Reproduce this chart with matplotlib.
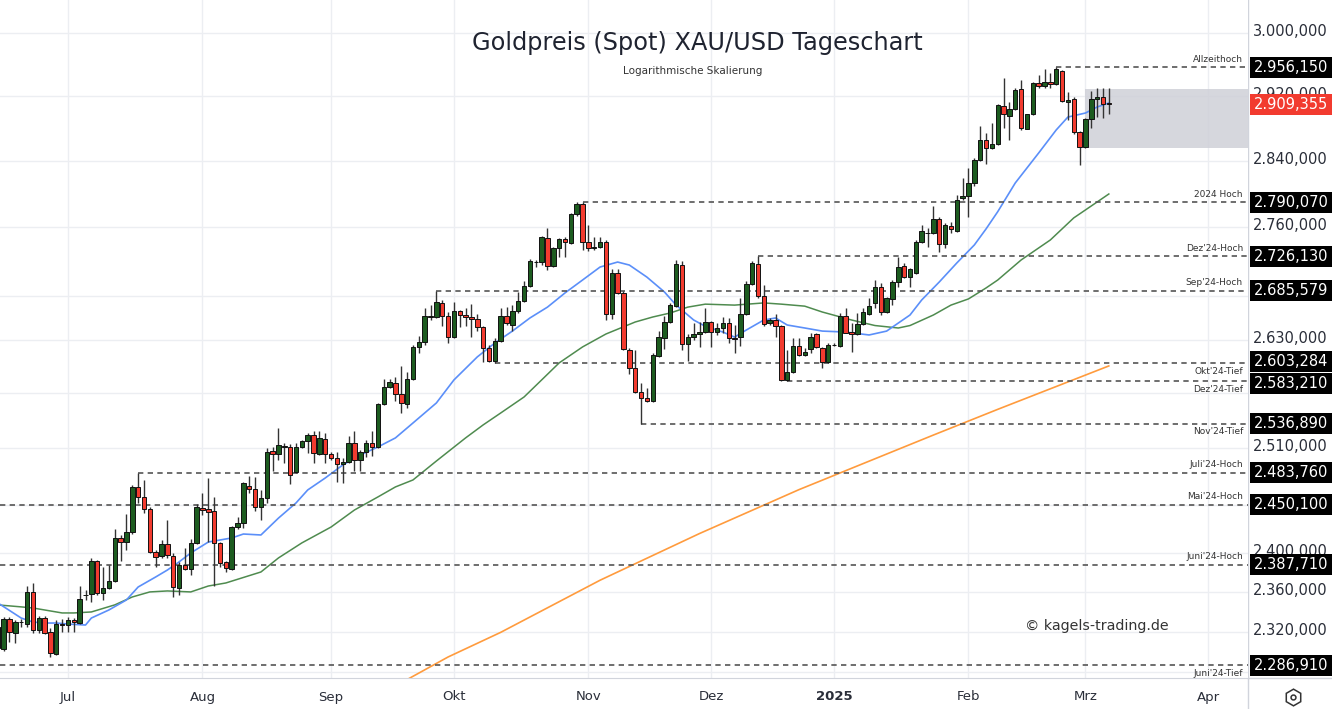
import numpy as np
import pandas as pd
import matplotlib
matplotlib.use("Agg")
import matplotlib.pyplot as plt
from matplotlib.patches import Rectangle
from matplotlib.lines import Line2D

W, H = 1332, 709

# ---------------- data ----------------
dates = pd.bdate_range("2024-06-13", "2025-03-07")
dates = dates[dates != pd.Timestamp("2024-12-25")]

open_ = [2304.0, 2303.0, 2332.8, 2318.9, 2329.6, 2327.8, 2360.1, 2321.9, 2333.8, 2319.9,
         2298.1, 2328.0, 2326.8, 2331.8, 2328.8, 2356.5, 2358.1, 2391.7, 2359.1, 2364.1,
         2371.2, 2415.4, 2411.2, 2421.6, 2468.9, 2458.3, 2445.6, 2400.9, 2396.8, 2409.2,
         2396.8, 2364.1, 2387.6, 2383.4, 2410.3, 2447.0, 2445.6, 2443.5, 2410.3, 2390.7,
         2383.4, 2426.8, 2431.0, 2469.9, 2466.8, 2447.7, 2457.2, 2507.3, 2504.0, 2512.0,
         2511.6, 2484.8, 2511.6, 2518.0, 2524.6, 2504.0, 2520.3, 2504.0, 2499.8, 2493.3,
         2495.5, 2515.9, 2497.6, 2506.2, 2515.9, 2511.6, 2558.4, 2577.1, 2581.6, 2569.4,
         2558.4, 2586.0, 2621.8, 2627.4, 2656.0, 2655.7, 2671.8, 2656.8, 2633.0, 2662.6,
         2658.0, 2655.7, 2653.4, 2644.0, 2620.6, 2606.1, 2628.5, 2656.8, 2646.6, 2662.6,
         2674.0, 2691.3, 2719.0, 2719.1, 2747.4, 2714.5, 2735.6, 2746.2, 2741.5, 2775.7,
         2787.7, 2742.7, 2736.0, 2736.7, 2742.7, 2659.1, 2706.3, 2683.3, 2618.4, 2598.2,
         2571.6, 2565.0, 2561.7, 2611.7, 2631.9, 2650.0, 2668.1, 2715.6, 2625.1, 2633.0,
         2636.4, 2638.6, 2650.0, 2638.6, 2643.2, 2648.9, 2631.9, 2633.0, 2659.1, 2693.6,
         2716.8, 2679.8, 2648.9, 2652.3, 2645.5, 2584.9, 2593.8, 2622.9, 2612.8, 2619.5,
         2636.4, 2620.6, 2605.0, 2624.0, 2622.9, 2656.8, 2638.6, 2636.4, 2647.7, 2659.1,
         2671.8, 2690.1, 2661.4, 2676.4, 2696.0, 2714.5, 2701.6, 2706.3, 2742.7, 2753.0,
         2753.2, 2769.8, 2740.3, 2761.5, 2755.6, 2794.9, 2797.3, 2813.0, 2840.8, 2865.3,
         2855.5, 2860.4, 2907.5, 2895.0, 2903.8, 2928.8, 2878.9, 2897.5, 2936.3, 2932.5,
         2937.6, 2935.1, 2951.4, 2912.5, 2916.2, 2875.2, 2856.8, 2891.2, 2916.2, 2918.7,
         2911.2]
high = [2329.8, 2334.8, 2334.8, 2331.8, 2332.8, 2366.1, 2369.2, 2335.9, 2335.9, 2323.9,
        2331.8, 2332.8, 2334.8, 2333.8, 2366.1, 2362.1, 2394.8, 2392.7, 2385.5, 2387.6,
        2424.7, 2418.5, 2440.4, 2471.0, 2483.8, 2476.3, 2447.7, 2403.0, 2413.3, 2434.1,
        2399.9, 2390.7, 2405.1, 2414.4, 2450.9, 2462.5, 2478.4, 2458.3, 2411.2, 2391.7,
        2427.9, 2437.2, 2474.2, 2480.5, 2479.4, 2465.7, 2510.5, 2511.6, 2532.2, 2515.9,
        2514.8, 2515.9, 2519.1, 2526.8, 2528.9, 2528.9, 2526.8, 2506.2, 2506.2, 2499.8,
        2523.5, 2528.9, 2508.4, 2519.1, 2528.9, 2559.5, 2586.0, 2586.0, 2588.2, 2600.5,
        2593.8, 2624.1, 2634.1, 2665.9, 2669.3, 2685.6, 2675.2, 2661.4, 2672.9, 2663.7,
        2665.9, 2670.4, 2659.1, 2645.1, 2624.1, 2631.9, 2665.9, 2667.0, 2669.3, 2684.4,
        2697.1, 2722.6, 2721.5, 2749.7, 2759.1, 2736.7, 2747.4, 2748.5, 2776.9, 2790.0,
        2790.07, 2762.7, 2748.5, 2748.5, 2745.0, 2711.0, 2711.0, 2685.5, 2620.6, 2618.4,
        2581.6, 2576.0, 2615.0, 2639.7, 2656.8, 2671.8, 2721.5, 2720.3, 2636.4, 2648.9,
        2650.0, 2665.9, 2651.2, 2648.9, 2655.7, 2654.5, 2646.6, 2677.5, 2697.1, 2720.3,
        2726.13, 2692.5, 2654.5, 2659.1, 2646.6, 2618.4, 2631.9, 2631.9, 2620.6, 2637.5,
        2637.5, 2621.8, 2626.2, 2626.0, 2660.3, 2665.9, 2648.9, 2660.3, 2665.9, 2677.5,
        2698.2, 2694.8, 2678.7, 2698.2, 2725.0, 2718.0, 2712.1, 2745.0, 2762.7, 2759.2,
        2785.3, 2772.2, 2765.0, 2766.2, 2798.5, 2819.0, 2831.1, 2843.3, 2882.6, 2874.0,
        2886.3, 2910.0, 2942.6, 2912.5, 2930.0, 2940.1, 2898.0, 2937.6, 2946.4, 2954.0,
        2948.9, 2956.15, 2952.7, 2925.0, 2918.7, 2876.0, 2892.5, 2926.2, 2930.0, 2930.0,
        2930.0]
low = [2302.0, 2301.0, 2309.9, 2308.9, 2324.9, 2324.9, 2318.9, 2318.9, 2317.9, 2295.1,
       2297.1, 2319.9, 2319.9, 2319.9, 2327.8, 2352.0, 2350.0, 2357.1, 2352.0, 2363.1,
       2370.0, 2391.7, 2403.0, 2420.0, 2452.0, 2441.5, 2399.5, 2385.5, 2395.0, 2395.0,
       2355.0, 2357.1, 2382.4, 2377.3, 2409.0, 2439.4, 2411.2, 2366.1, 2385.5, 2380.4,
       2382.0, 2424.7, 2425.8, 2462.5, 2443.5, 2434.1, 2452.0, 2485.8, 2497.6, 2494.4,
       2472.0, 2483.7, 2510.5, 2505.1, 2494.4, 2503.0, 2494.4, 2497.6, 2474.2, 2473.1,
       2494.4, 2485.8, 2485.8, 2500.8, 2501.9, 2510.5, 2557.3, 2576.0, 2561.7, 2548.5,
       2554.0, 2584.9, 2615.0, 2624.1, 2652.3, 2654.5, 2645.1, 2626.2, 2631.9, 2644.0,
       2645.1, 2633.0, 2639.7, 2605.0, 2605.0, 2603.3, 2627.4, 2646.6, 2639.7, 2660.3,
       2672.9, 2690.1, 2713.3, 2715.6, 2709.8, 2713.5, 2725.0, 2725.0, 2740.0, 2773.3,
       2733.2, 2732.0, 2733.2, 2735.6, 2652.3, 2653.4, 2682.0, 2618.4, 2591.5, 2570.5,
       2536.89, 2560.6, 2560.6, 2610.6, 2619.5, 2648.9, 2667.0, 2618.4, 2606.1, 2629.6,
       2621.8, 2637.5, 2621.8, 2635.3, 2637.5, 2626.2, 2615.0, 2622.9, 2658.0, 2692.5,
       2677.5, 2645.1, 2646.6, 2633.0, 2583.8, 2583.21, 2592.7, 2611.7, 2611.7, 2615.0,
       2620.6, 2598.2, 2603.9, 2622.5, 2621.8, 2637.0, 2616.1, 2635.3, 2646.6, 2658.0,
       2665.9, 2658.0, 2660.3, 2669.3, 2690.1, 2700.5, 2690.1, 2705.2, 2741.5, 2736.7,
       2752.1, 2730.9, 2735.6, 2753.3, 2754.5, 2792.5, 2772.2, 2809.4, 2839.6, 2835.9,
       2854.3, 2859.2, 2880.1, 2865.3, 2902.5, 2877.7, 2878.5, 2896.2, 2930.0, 2930.0,
       2930.0, 2933.8, 2912.5, 2890.0, 2872.8, 2834.7, 2855.5, 2880.1, 2893.7, 2892.5,
       2897.5]
close = [2324.9, 2332.8, 2319.9, 2329.8, 2330.0, 2360.1, 2321.9, 2333.8, 2318.9, 2299.1,
         2327.8, 2327.0, 2331.8, 2329.8, 2353.0, 2357.0, 2391.7, 2359.1, 2364.1, 2371.2,
         2415.4, 2411.2, 2421.6, 2468.9, 2458.3, 2445.6, 2400.9, 2395.8, 2409.2, 2397.9,
         2365.1, 2387.6, 2383.4, 2410.3, 2447.7, 2444.6, 2442.5, 2410.3, 2389.6, 2384.5,
         2426.8, 2431.0, 2473.1, 2466.8, 2447.7, 2457.2, 2506.2, 2504.0, 2513.7, 2512.6,
         2481.6, 2511.6, 2518.0, 2524.6, 2505.1, 2521.4, 2504.0, 2499.8, 2493.3, 2495.5,
         2515.9, 2497.6, 2506.2, 2515.9, 2511.6, 2558.4, 2577.1, 2582.7, 2569.4, 2559.5,
         2586.0, 2621.8, 2627.4, 2656.8, 2657.0, 2672.9, 2656.8, 2633.0, 2662.6, 2658.0,
         2655.7, 2653.4, 2644.0, 2620.6, 2606.1, 2628.5, 2656.8, 2648.9, 2662.6, 2674.0,
         2691.3, 2720.3, 2719.6, 2748.5, 2714.5, 2735.6, 2746.2, 2742.7, 2775.7, 2787.7,
         2742.7, 2735.6, 2736.4, 2742.7, 2659.1, 2706.3, 2683.3, 2619.5, 2598.2, 2571.6,
         2565.0, 2561.7, 2612.8, 2633.0, 2650.0, 2669.3, 2716.8, 2625.1, 2633.0, 2636.4,
         2638.6, 2650.0, 2638.6, 2643.2, 2648.9, 2631.9, 2630.7, 2659.1, 2693.6, 2718.0,
         2679.8, 2647.7, 2652.3, 2645.5, 2584.9, 2593.8, 2622.9, 2612.8, 2616.2, 2633.0,
         2621.8, 2605.0, 2624.0, 2624.5, 2656.8, 2637.5, 2636.4, 2647.7, 2661.4, 2668.1,
         2690.1, 2661.4, 2677.5, 2696.0, 2713.3, 2701.6, 2711.0, 2742.7, 2755.6, 2753.5,
         2769.8, 2740.3, 2762.7, 2757.9, 2792.5, 2797.3, 2813.0, 2840.8, 2865.3, 2855.5,
         2860.4, 2908.7, 2897.5, 2903.8, 2927.5, 2880.1, 2897.5, 2936.3, 2932.5, 2937.6,
         2935.1, 2954.0, 2913.7, 2915.0, 2875.2, 2856.8, 2891.2, 2916.2, 2918.7, 2910.0,
         2909.355]

ma20_dates = ["2024-06-13", "2024-06-19", "2024-06-21", "2024-06-25", "2024-06-27", "2024-07-01",
              "2024-07-04", "2024-07-05", "2024-07-10", "2024-07-15", "2024-07-17", "2024-07-22",
              "2024-07-24", "2024-07-26", "2024-07-30", "2024-08-02", "2024-08-08", "2024-08-12",
              "2024-08-15", "2024-08-20", "2024-08-23", "2024-08-27", "2024-08-30", "2024-09-04",
              "2024-09-09", "2024-09-12", "2024-09-17", "2024-09-20", "2024-09-26", "2024-10-01",
              "2024-10-07", "2024-10-10", "2024-10-15", "2024-10-18", "2024-10-23", "2024-10-28",
              "2024-10-31", "2024-11-05", "2024-11-08", "2024-11-12", "2024-11-15", "2024-11-20",
              "2024-11-22", "2024-11-27", "2024-11-29", "2024-12-04", "2024-12-06", "2024-12-10",
              "2024-12-13", "2024-12-17", "2024-12-19", "2024-12-24", "2024-12-30", "2025-01-03",
              "2025-01-09", "2025-01-14", "2025-01-20", "2025-01-22", "2025-01-27", "2025-01-30",
              "2025-02-04", "2025-02-06", "2025-02-10", "2025-02-13", "2025-02-19", "2025-02-24",
              "2025-02-26", "2025-03-03", "2025-03-05", "2025-03-07"]
ma20_vals = [2349.0, 2333.8, 2329.8, 2328.8, 2328.8, 2327.8, 2326.8, 2333.8, 2341.9, 2352.0,
             2365.1, 2375.3, 2382.4, 2390.7, 2399.9, 2411.2, 2415.4, 2419.5, 2418.5, 2436.1,
             2452.0, 2465.7, 2478.4, 2492.3, 2503.0, 2511.6, 2521.4, 2537.6, 2559.5, 2584.9,
             2610.6, 2626.2, 2639.7, 2654.6, 2667.0, 2683.3, 2698.2, 2713.3, 2719.1, 2715.6,
             2701.6, 2684.4, 2669.3, 2652.3, 2645.1, 2638.6, 2632.9, 2640.9, 2652.3, 2654.6,
             2646.6, 2643.2, 2639.7, 2638.6, 2635.3, 2639.7, 2658.0, 2675.2, 2695.9, 2718.0,
             2739.1, 2758.0, 2778.5, 2813.0, 2849.4, 2877.7, 2893.7, 2898.7, 2906.2, 2911.2]

ma50_dates = ["2024-06-13", "2024-06-19", "2024-06-21", "2024-06-28", "2024-07-02", "2024-07-05",
              "2024-07-11", "2024-07-16", "2024-07-19", "2024-07-24", "2024-07-30", "2024-08-02",
              "2024-08-07", "2024-08-15", "2024-08-20", "2024-08-26", "2024-09-02", "2024-09-06",
              "2024-09-12", "2024-09-17", "2024-09-20", "2024-09-26", "2024-10-03", "2024-10-08",
              "2024-10-11", "2024-10-17", "2024-10-22", "2024-10-25", "2024-10-31", "2024-11-06",
              "2024-11-13", "2024-11-18", "2024-11-21", "2024-11-26", "2024-11-29", "2024-12-06",
              "2024-12-13", "2024-12-18", "2024-12-24", "2024-12-30", "2025-01-06", "2025-01-10",
              "2025-01-16", "2025-01-20", "2025-01-24", "2025-01-29", "2025-02-03", "2025-02-06",
              "2025-02-10", "2025-02-14", "2025-02-21", "2025-02-27", "2025-03-05", "2025-03-07"]
ma50_vals = [2347.0, 2345.0, 2343.9, 2338.9, 2338.9, 2339.9, 2347.0, 2355.0, 2360.1, 2361.1,
             2360.1, 2366.1, 2369.2, 2380.4, 2394.8, 2410.3, 2426.8, 2444.6, 2458.3, 2468.9,
             2476.3, 2496.5, 2521.4, 2535.5, 2548.5, 2566.1, 2584.9, 2603.9, 2621.8, 2636.4,
             2650.0, 2655.7, 2660.3, 2667.0, 2670.4, 2669.3, 2671.8, 2670.4, 2668.1, 2661.4,
             2652.3, 2646.0, 2643.2, 2646.0, 2658.0, 2669.3, 2676.4, 2689.0, 2698.2, 2721.5,
             2745.0, 2771.1, 2790.1, 2799.7]

ma200_dates = ["2024-09-19", "2024-09-30", "2024-10-11", "2024-11-05", "2024-11-28",
               "2024-12-23", "2025-01-24", "2025-02-10", "2025-03-07"]
ma200_vals = [2273.0, 2295.1, 2319.5, 2372.0, 2420.0, 2466.0, 2524.5, 2552.5, 2600.5]

level_names = ["Allzeithoch", "2024 Hoch", "Dez'24-Hoch", "Sep'24-Hoch", "Okt'24-Tief",
               "Dez'24-Tief", "Nov'24-Tief", "Juli'24-Hoch", "Mai'24-Hoch", "Juni'24-Hoch",
               "Juni'24-Tief"]
level_prices = [2956.150, 2790.070, 2726.130, 2685.579, 2603.284, 2583.210, 2536.890,
                2483.760, 2450.100, 2387.710, 2286.910]
level_starts = ["2025-02-24", "2024-10-31", "2024-12-12", "2024-09-26", "2024-10-10",
                "2024-12-19", "2024-11-14", "2024-07-17", None, None, None]

grid_vals = [3000, 2920, 2840, 2760, 2680, 2630, 2570, 2510, 2450, 2400, 2360, 2320, 2280]
ytick_labels_shown = [3000, 2920, 2840, 2760, 2630, 2510, 2400, 2360, 2320]
last_price = 2909.355
zone_start = "2025-03-03"
zone_low, zone_high = 2855.9, 2928.4

month_starts = ["2024-07-01", "2024-08-01", "2024-09-01", "2024-10-01", "2024-11-01",
                "2024-12-01", "2025-01-01", "2025-02-01", "2025-03-01", "2025-04-01"]
month_labels = ["Jul", "Aug", "Sep", "Okt", "Nov", "Dez", "2025", "Feb", "Mrz", "Apr"]

# ---------------- helpers ----------------
axis_dates = dates.append(pd.bdate_range("2025-03-10", "2025-04-30"))


def pos(d):
    return float(np.searchsorted(axis_dates, pd.Timestamp(d)))


def fmt(v):
    return f"{v:,.3f}".replace(",", " ").replace(".", ",").replace(" ", ".")


GREEN = "#1d5c20"
RED = "#f23b2f"
GRID = "#eceef2"
TXT = "#2a2e39"

fig = plt.figure(figsize=(W / 100, H / 100), dpi=100)
fig.patch.set_facecolor("white")
ax_bottom_px = 678
ax = fig.add_axes([0, (H - ax_bottom_px) / H, 1248 / W, ax_bottom_px / H])
ax.set_yscale("log")
ax.set_ylim(2274.5, 3042.8)
ax.set_xlim(0.376, 213.8)

for s in ["top", "left", "right"]:
    ax.spines[s].set_visible(False)
ax.spines["bottom"].set_color("#d1d4dc")
ax.yaxis.set_visible(False)
ax.yaxis.set_minor_locator(matplotlib.ticker.NullLocator())

# grid
for v in grid_vals:
    ax.axhline(v, color=GRID, lw=1, zorder=0)
mpos = [pos(d) for d in month_starts]
for p in mpos:
    ax.axvline(p, color=GRID, lw=1, zorder=0)

ax.set_xticks(mpos)
ax.set_xticklabels(month_labels, fontsize=9.5, color=TXT)
for lbl in ax.get_xticklabels():
    if lbl.get_text() == "2025":
        lbl.set_fontweight("bold")
ax.tick_params(axis="x", length=0, pad=9)

# zone
xr = ax.get_xlim()[1]
ax.fill_between([pos(zone_start), xr], zone_low, zone_high, color="#cfd0d8", alpha=0.85,
                lw=0, zorder=1)

# moving averages
ax.plot([pos(d) for d in ma200_dates], ma200_vals, color="#ff9b3d", lw=1.2, zorder=2)
ax.plot([pos(d) for d in ma50_dates], ma50_vals, color="#4f8b4f", lw=1.1, zorder=2)
ax.plot([pos(d) for d in ma20_dates], ma20_vals, color="#5b8ff9", lw=1.2, zorder=2)

# level lines
for name, pr, st in zip(level_names, level_prices, level_starts):
    x0 = pos(st) if st else ax.get_xlim()[0]
    ax.plot([x0, xr], [pr, pr], color="#555555", lw=1.2, dashes=(3.2, 2.6), zorder=2.5)

# candles
o = np.array(open_); h = np.array(high); l = np.array(low); c = np.array(close)
x = np.arange(len(dates))
cols = np.where(c >= o, GREEN, RED)
ax.vlines(x, l, h, color="#333333", lw=1.0, zorder=3)
ax.bar(x, np.abs(c - o), bottom=np.minimum(o, c), width=0.76, color=cols,
       edgecolor="#111111", linewidth=0.7, zorder=4)

# ---------------- texts ----------------
fig.text(697 / W, 1 - 43 / H, "Goldpreis (Spot) XAU/USD Tageschart", ha="center", va="center",
         fontsize=17.3, color="#1f2330")
fig.text(693 / W, 1 - 71 / H, "Logarithmische Skalierung", ha="center", va="center",
         fontsize=7.5, color="#333333")
fig.text(1097 / W, 1 - 626 / H, "\u00a9 kagels-trading.de", ha="center", va="center",
         fontsize=10.3, color="#333333")


def ypx(price):
    return ax.transData.transform((1, price))[1]


for name, pr in zip(level_names, level_prices):
    yy = ypx(pr)
    off = 8 if ("Hoch" in name or "Allzeit" in name) else -8
    fig.text(1243 / W, (yy + off) / H, name, ha="right", va="center", fontsize=6.5,
             color="#333333")

# right axis tick labels (partly covered by the level boxes, as in the original)
for v in ytick_labels_shown:
    yy = ypx(v) + 1.5
    fig.text(1290 / W, yy / H, fmt(v), ha="center", va="center", fontsize=10.5, color=TXT,
             zorder=1)

boxes = [(pr, fmt(pr), "black") for pr in level_prices] + [(last_price, fmt(last_price), RED)]
boxes = sorted(boxes, key=lambda b: -b[0])
centers = [ypx(b[0]) for b in boxes]
bh = 21
for _ in range(10):
    for i in range(len(centers) - 1):
        gap = centers[i] - centers[i + 1]
        if gap < bh + 1:
            d = (bh + 1 - gap) / 2
            centers[i] += d
            centers[i + 1] -= d
for (pr, s, col), cy in zip(boxes, centers):
    fig.add_artist(Rectangle((1250 / W, (cy - bh / 2) / H), 82 / W, bh / H,
                             transform=fig.transFigure, facecolor=col, edgecolor="none",
                             zorder=5))
    fig.text(1291 / W, cy / H, s, ha="center", va="center", fontsize=10.5, color="white",
             zorder=6)

# separators
fig.add_artist(Line2D([1248 / W, 1248 / W], [0, 1], transform=fig.transFigure,
                      color="#d1d4dc", lw=1, zorder=0))
fig.add_artist(Line2D([1248 / W, 1], [(H - ax_bottom_px) / H] * 2, transform=fig.transFigure,
                      color="#d1d4dc", lw=1, zorder=0))
fig.add_artist(Line2D([1293 / W], [1 - 697 / H], transform=fig.transFigure, marker="h",
                      markersize=12, mfc="none", mec="#333333", mew=1.1, lw=0))
fig.add_artist(Line2D([1293 / W], [1 - 697 / H], transform=fig.transFigure, marker="o",
                      markersize=3.5, mfc="none", mec="#333333", mew=1.1, lw=0))

fig.savefig("out.png", dpi=100)
